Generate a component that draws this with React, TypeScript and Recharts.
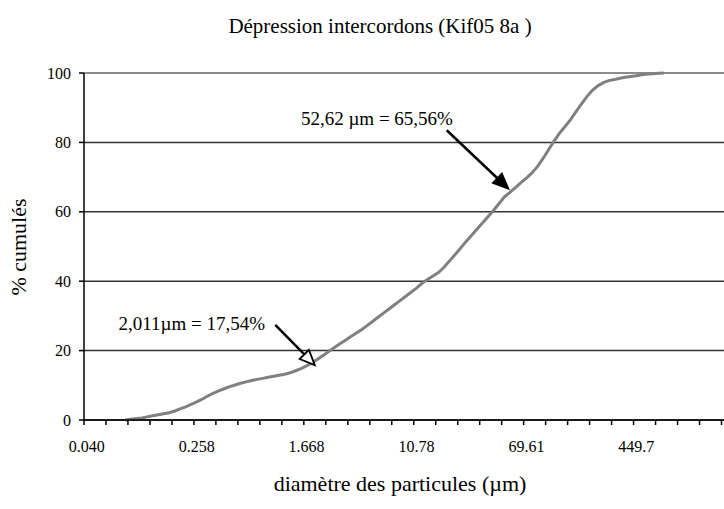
import {
  LineChart,
  Line,
  XAxis,
  YAxis,
  CartesianGrid,
  ReferenceLine,
  ReferenceDot,
} from 'recharts';

// Coulter LS channel diameters (µm), one category per channel
const diameters = [
  0.04, 0.044, 0.048, 0.053, 0.058, 0.064, 0.07, 0.077, 0.084, 0.093,
  0.102, 0.112, 0.122, 0.134, 0.148, 0.162, 0.178, 0.195, 0.214, 0.235,
  0.258, 0.284, 0.311, 0.342, 0.375, 0.412, 0.452, 0.496, 0.545, 0.598,
  0.656, 0.721, 0.791, 0.868, 0.953, 1.047, 1.149, 1.261, 1.385, 1.52,
  1.668, 1.832, 2.011, 2.207, 2.423, 2.66, 2.92, 3.206, 3.519, 3.863,
  4.241, 4.656, 5.111, 5.611, 6.159, 6.761, 7.421, 8.147, 8.944, 9.819,
  10.78, 11.83, 12.99, 14.26, 15.65, 17.18, 18.86, 20.71, 22.73, 24.95,
  27.39, 30.07, 33.01, 36.24, 39.78, 43.67, 47.94, 52.62, 57.77, 63.41,
  69.61, 76.42, 83.9, 92.09, 101.1, 111.0, 121.8, 133.7, 146.8, 161.2,
  176.8, 194.2, 213.2, 234.1, 256.9, 282.1, 309.6, 339.9, 373.1, 409.6,
  449.7, 493.6, 541.9, 594.9, 653.0, 716.9, 786.9, 863.9, 948.3, 1041,
  1143, 1255, 1377, 1512, 1660, 1822, 2000,
];

// % cumulés (null = nothing drawn)
const cumulative: (number | null)[] = [
  null, null, null, null, null, null, null, 0, 0.2, 0.4,
  0.6, 0.9, 1.2, 1.5, 1.8, 2.1, 2.6, 3.2, 3.8, 4.5,
  5.2, 6.0, 6.9, 7.7, 8.4, 9.0, 9.6, 10.1, 10.6, 11.0,
  11.4, 11.7, 12.0, 12.3, 12.6, 12.9, 13.2, 13.6, 14.2, 14.8,
  15.6, 16.5, 17.5, 18.6, 19.7, 20.8, 21.9, 22.9, 24.0, 25.0,
  26.0, 27.2, 28.4, 29.6, 30.8, 32.0, 33.2, 34.4, 35.6, 36.8,
  38.0, 39.4, 40.5, 41.5, 42.5, 44.0, 45.8, 47.6, 49.5, 51.4,
  53.2, 55.0, 56.8, 58.6, 60.4, 62.3, 64.3, 65.6, 67.0, 68.4,
  69.7, 71.2, 73.0, 75.3, 77.8, 80.3, 82.6, 84.5, 86.5, 88.8,
  91.0, 93.2, 95.0, 96.3, 97.2, 97.8, 98.1, 98.5, 98.8, 99.0,
  99.2, 99.5, 99.7, 99.8, 99.9, 100, null, null, null, null,
  null, null, null, null, null, null, null,
];

const xTickChannels = [0, 20, 40, 60, 80, 100];
const xTickLabels = ['0.040', '0.258', '1.668', '10.78', '69.61', '449.7'];
const yTicks = [0, 20, 40, 60, 80, 100];

// annotations: [channel, %] for text centre, arrow start and arrow tip
const notes = [
  { text: '52,62 µm = 65,56%', at: [52.8, 87], from: [65.5, 83.5], to: [76.7, 66.7], filled: true },
  { text: '2,011µm = 17,54%', at: [19.1, 27.9], from: [34.3, 27.4], to: [41.5, 15.8], filled: false },
];

const data = diameters.map((d, i) => ({ c: i, d, pct: cumulative[i] }));

const FONT = 'Liberation Serif, DejaVu Serif, serif';
const W = 730;
const H = 509;
const Y_W = 84;
const MARGIN = { top: 73, right: 3, left: 0, bottom: 0 };
const HALF_CAT = (W - Y_W - MARGIN.left - MARGIN.right) / diameters.length / 2;

// tick marks every 4 channels on category boundaries, labels every 20 channels
const boundaryTicks = Array.from({ length: 30 }, (_, k) => -0.5 + 4 * k);

function XTick(props: any) {
  const { x, y, payload } = props;
  const idx = xTickChannels.indexOf(payload.value + 0.5);
  if (idx < 0) return null;
  return (
    <text x={x + HALF_CAT} y={y} dy="0.71em" textAnchor="middle" fill="#000" style={{ fontFamily: FONT, fontSize: 16 }}>
      {xTickLabels[idx]}
    </text>
  );
}

function Arrow(filled: boolean) {
  return (props: any) => {
    const { x1, y1, x2, y2 } = props;
    const dx = x2 - x1;
    const dy = y2 - y1;
    const len = Math.sqrt(dx * dx + dy * dy);
    const ux = dx / len;
    const uy = dy / len;
    const hl = 15;
    const hw = 6.5;
    const bx = x2 - ux * hl;
    const by = y2 - uy * hl;
    const pts = `${x2},${y2} ${bx - uy * hw},${by + ux * hw} ${bx + uy * hw},${by - ux * hw}`;
    return (
      <g>
        <line x1={x1} y1={y1} x2={bx} y2={by} stroke="#000" strokeWidth={2.5} />
        <polygon points={pts} fill={filled ? '#000' : '#fff'} stroke="#000" strokeWidth={1.8} />
      </g>
    );
  };
}

export default function App() {
  return (
    <div
      style={{
        position: 'absolute',
        left: 0,
        top: 0,
        width: 724,
        height: 509,
        overflow: 'hidden',
        background: '#fff',
        fontFamily: FONT,
      }}
    >
      <div
        style={{
          position: 'absolute',
          left: 180,
          top: 13,
          width: 400,
          textAlign: 'center',
          fontFamily: FONT,
          fontSize: 21,
          lineHeight: '26px',
          color: '#000',
        }}
      >
        Dépression intercordons (Kif05 8a )
      </div>
      <LineChart width={W} height={H} data={data} margin={MARGIN} style={{ fontFamily: FONT }}>
        <CartesianGrid vertical={false} stroke="#333" strokeWidth={1.5} />
        <ReferenceLine y={100} stroke="#9a9a9a" strokeWidth={1.5} />
        <XAxis
          dataKey="c"
          type="number"
          domain={[-0.5, diameters.length - 0.5]}
          ticks={boundaryTicks}
          interval={0}
          allowDataOverflow
          height={89}
          tickSize={5}
          tickMargin={16}
          axisLine={{ stroke: '#000', strokeWidth: 1.5 }}
          tickLine={{ stroke: '#000', strokeWidth: 1.5 }}
          tick={<XTick />}
          label={{
            content: () => (
              <text x={400} y={491} textAnchor="middle" fill="#000" style={{ fontFamily: FONT, fontSize: 22 }}>
                diamètre des particules (µm)
              </text>
            ),
          }}
        />
        <YAxis
          type="number"
          domain={[0, 100]}
          ticks={yTicks}
          interval={0}
          width={Y_W}
          tickSize={5}
          tickMargin={8}
          axisLine={{ stroke: '#000', strokeWidth: 1.5 }}
          tickLine={{ stroke: '#000', strokeWidth: 1.5 }}
          tick={{ fill: '#000', fontSize: 16, style: { fontFamily: FONT } }}
          label={{
            content: () => (
              <text
                x={18}
                y={247}
                transform="rotate(-90 18 247)"
                textAnchor="middle"
                dominantBaseline="central"
                fill="#000"
                style={{ fontFamily: FONT, fontSize: 22 }}
              >
                % cumulés
              </text>
            ),
          }}
        />
        <Line
          type="linear"
          dataKey="pct"
          stroke="#808080"
          strokeWidth={3}
          dot={false}
          activeDot={false}
          isAnimationActive={false}
        />
        {notes.map((n, i) => (
          <ReferenceLine
            key={'a' + i}
            segment={[
              { x: n.from[0], y: n.from[1] },
              { x: n.to[0], y: n.to[1] },
            ]}
            shape={Arrow(n.filled)}
          />
        ))}
        {notes.map((n, i) => (
          <ReferenceDot
            key={'t' + i}
            x={n.at[0]}
            y={n.at[1]}
            r={0}
            fill="none"
            stroke="none"
            label={{ value: n.text, position: 'center', fill: '#000', fontSize: 19, style: { fontFamily: FONT } }}
          />
        ))}
      </LineChart>
    </div>
  );
}
